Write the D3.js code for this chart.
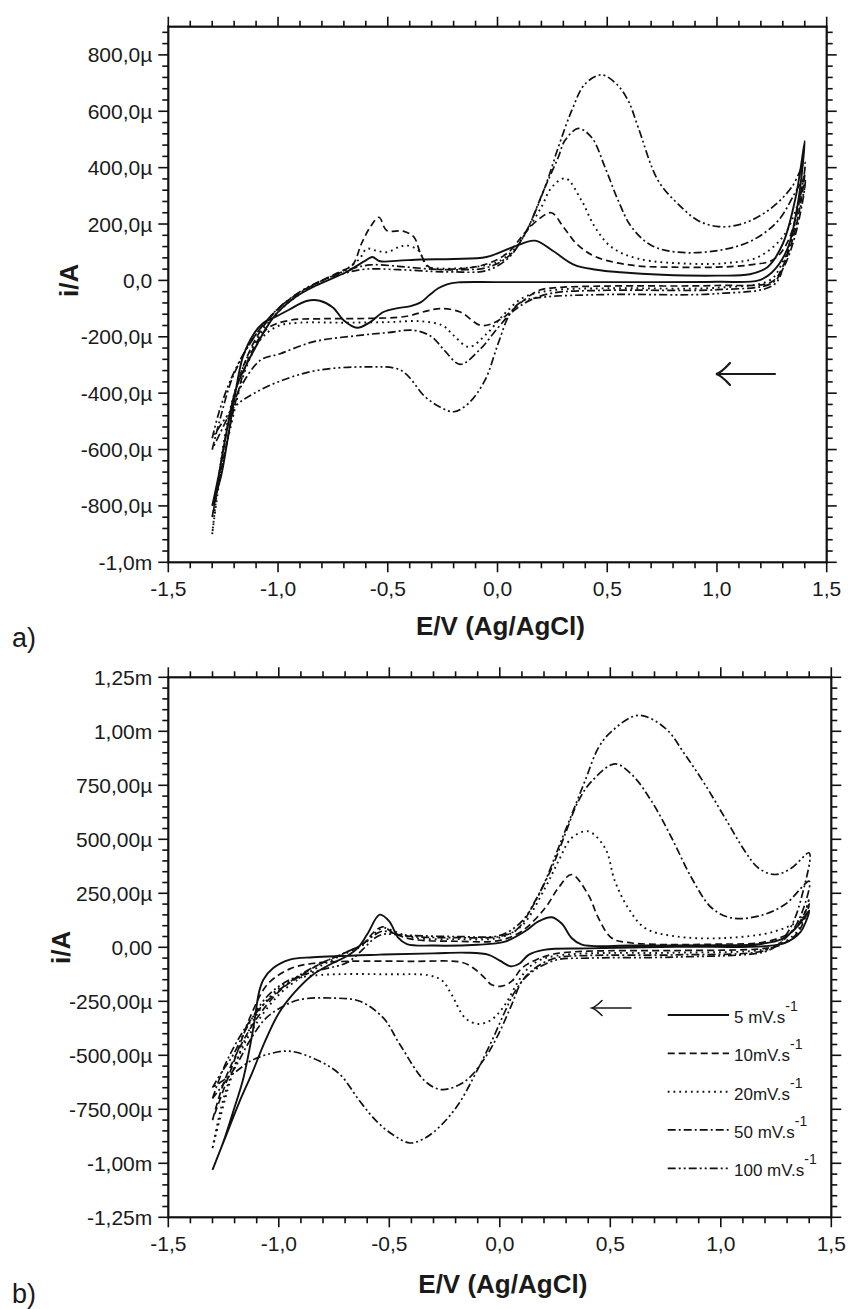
<!DOCTYPE html>
<html>
<head>
<meta charset="utf-8">
<script src="https://cdn.jsdelivr.net/npm/d3@7"></script>
<style>
  body { margin: 0; background: #fff; }
  svg { display: block; }
  text { font-family: "Liberation Sans", Arial, Helvetica, sans-serif; fill: #1a1a1a; }
</style>
</head>
<body>
<svg id="chart" width="850" height="1309"></svg>
<script>
// ---- axis ticks and labels ----
const xTicks = [-1.5, -1.0, -0.5, 0.0, 0.5, 1.0, 1.5];
const xTickLabels = ["-1,5", "-1,0", "-0,5", "0,0", "0,5", "1,0", "1,5"];
const yTicksA = [800, 600, 400, 200, 0, -200, -400, -600, -800, -1000];
const yTickLabelsA = ["800,0µ", "600,0µ", "400,0µ", "200,0µ", "0,0", "-200,0µ", "-400,0µ", "-600,0µ", "-800,0µ", "-1,0m"];
const yTicksB = [1250, 1000, 750, 500, 250, 0, -250, -500, -750, -1000, -1250];
const yTickLabelsB = ["1,25m", "1,00m", "750,00µ", "500,00µ", "250,00µ", "0,00", "-250,00µ", "-500,00µ", "-750,00µ", "-1,00m", "-1,25m"];
const scanRates = ["5 mV.s", "10mV.s", "20mV.s", "50 mV.s", "100 mV.s"];

// ---- voltammograms, [E (V), i (µA)], forward sweep then reverse sweep ----
// a)
const cvA5 = [[-1.30,-800],[-1.27,-690],[-1.24,-560],[-1.19,-380],[-1.11,-248],[-1.02,-130],[-0.92,-59],[-0.81,-12],[-0.69,29],[-0.60,71],[-0.57,83],[-0.535,68],[-0.45,70],[-0.35,74],[-0.20,76],[-0.05,83],[0.07,118],[0.17,141],[0.25,106],[0.35,55],[0.45,38],[0.56,29],[0.75,20],[1.00,17],[1.15,22],[1.23,47],[1.30,130],[1.36,300],[1.40,495],
  [1.37,280],[1.32,110],[1.25,28],[1.19,0],[1.00,-5],[0.50,-6],[0.00,-6],[-0.18,-7],[-0.23,-14],[-0.27,-28],[-0.31,-52],[-0.35,-78],[-0.40,-92],[-0.46,-99],[-0.52,-112],[-0.58,-148],[-0.64,-168],[-0.70,-142],[-0.75,-96],[-0.81,-72],[-0.87,-73],[-0.95,-104],[-1.006,-127],[-1.07,-153],[-1.11,-189],[-1.16,-271],[-1.20,-425],[-1.23,-566],[-1.26,-696],[-1.30,-800]];
const cvA10 = [[-1.30,-840],[-1.26,-650],[-1.22,-480],[-1.17,-330],[-1.10,-205],[-1.02,-118],[-0.92,-52],[-0.82,-8],[-0.72,30],[-0.66,55],[-0.62,130],[-0.58,189],[-0.54,224],[-0.505,177],[-0.43,175],[-0.38,153],[-0.35,94],[-0.31,47],[-0.20,40],[-0.05,58],[0.05,100],[0.12,165],[0.18,212],[0.245,240],[0.30,190],[0.36,130],[0.45,83],[0.62,53],[0.80,47],[1.00,47],[1.15,55],[1.26,75],[1.33,150],[1.40,380],
  [1.36,190],[1.30,50],[1.25,-5],[1.00,-18],[0.50,-20],[0.28,-25],[0.19,-35],[0.10,-83],[0.04,-124],[-0.03,-155],[-0.08,-159],[-0.17,-112],[-0.26,-100],[-0.32,-108],[-0.42,-128],[-0.60,-135],[-0.80,-136],[-0.95,-142],[-1.05,-172],[-1.13,-270],[-1.19,-420],[-1.24,-600],[-1.30,-840]];
const cvA20 = [[-1.30,-900],[-1.27,-700],[-1.23,-500],[-1.17,-330],[-1.09,-200],[-1.00,-112],[-0.90,-48],[-0.80,-2],[-0.70,35],[-0.63,75],[-0.596,112],[-0.55,105],[-0.505,100],[-0.45,118],[-0.414,124],[-0.36,106],[-0.32,50],[-0.25,42],[-0.10,48],[0.00,65],[0.07,105],[0.13,170],[0.20,260],[0.247,330],[0.31,362],[0.383,283],[0.444,189],[0.52,118],[0.641,77],[0.884,59],[1.05,62],[1.188,83],[1.31,165],[1.40,340],
  [1.35,170],[1.29,50],[1.24,0],[1.00,-26],[0.50,-28],[0.25,-35],[0.12,-60],[0.03,-120],[-0.05,-190],[-0.13,-236],[-0.20,-195],[-0.25,-160],[-0.35,-145],[-0.50,-148],[-0.70,-150],[-0.90,-150],[-1.00,-162],[-1.08,-210],[-1.15,-320],[-1.21,-500],[-1.26,-680],[-1.30,-900]];
const cvA50 = [[-1.30,-600],[-1.26,-480],[-1.21,-350],[-1.14,-240],[-1.06,-150],[-0.97,-80],[-0.87,-30],[-0.77,10],[-0.67,40],[-0.58,55],[-0.45,50],[-0.30,40],[-0.15,38],[-0.05,45],[0.05,85],[0.125,165],[0.216,330],[0.277,437],[0.307,496],[0.368,539],[0.429,507],[0.49,401],[0.55,283],[0.611,189],[0.702,124],[0.823,100],[1.006,106],[1.158,141],[1.279,212],[1.37,330],[1.40,360],
  [1.36,170],[1.30,40],[1.25,-10],[1.00,-33],[0.50,-35],[0.25,-45],[0.15,-70],[0.07,-110],[0.00,-170],[-0.08,-245],[-0.17,-298],[-0.24,-250],[-0.30,-200],[-0.38,-177],[-0.50,-185],[-0.63,-195],[-0.84,-218],[-0.99,-260],[-1.08,-283],[-1.17,-378],[-1.22,-470],[-1.30,-600]];
const cvA100 = [[-1.30,-560],[-1.27,-470],[-1.22,-360],[-1.15,-250],[-1.08,-170],[-1.00,-100],[-0.90,-40],[-0.80,0],[-0.70,25],[-0.60,40],[-0.45,38],[-0.30,32],[-0.20,30],[-0.05,35],[0.05,80],[0.125,165],[0.216,330],[0.277,472],[0.338,602],[0.398,696],[0.474,729],[0.543,696],[0.596,637],[0.641,543],[0.732,354],[0.823,271],[0.915,212],[1.006,191],[1.112,200],[1.233,248],[1.34,330],[1.40,420],
  [1.36,220],[1.31,70],[1.26,-15],[1.00,-47],[0.50,-50],[0.20,-60],[0.11,-75],[0.057,-118],[0.003,-224],[-0.057,-354],[-0.133,-437],[-0.20,-466],[-0.26,-450],[-0.33,-413],[-0.44,-319],[-0.60,-307],[-0.82,-319],[-0.98,-354],[-1.11,-401],[-1.20,-450],[-1.30,-560]];

// b)
const cvB5 = [[-1.30,-1030],[-1.24,-875],[-1.18,-720],[-1.12,-580],[-1.06,-430],[-1.00,-305],[-0.93,-210],[-0.85,-130],[-0.76,-75],[-0.69,-40],[-0.64,0],[-0.60,60],[-0.543,151],[-0.50,120],[-0.46,45],[-0.42,15],[-0.30,8],[-0.10,12],[0.02,25],[0.114,74],[0.175,120],[0.235,139],[0.28,110],[0.325,43],[0.371,12],[0.60,8],[1.00,10],[1.17,14],[1.28,40],[1.35,100],[1.40,170],
  [1.36,70],[1.29,20],[1.20,5],[0.80,2],[0.40,-5],[0.20,-12],[0.13,-35],[0.09,-75],[0.05,-88],[0.00,-62],[-0.05,-35],[-0.15,-25],[-0.30,-28],[-0.543,-34],[-0.844,-46],[-0.95,-57],[-1.025,-96],[-1.07,-150],[-1.09,-210],[-1.115,-373],[-1.16,-605],[-1.206,-759],[-1.25,-898],[-1.30,-1030]];
const cvB10 = [[-1.30,-800],[-1.25,-630],[-1.18,-470],[-1.10,-330],[-1.00,-205],[-0.90,-130],[-0.80,-70],[-0.70,-25],[-0.62,15],[-0.57,70],[-0.53,95],[-0.48,65],[-0.40,38],[-0.20,28],[0.00,32],[0.10,75],[0.205,182],[0.265,275],[0.325,337],[0.40,244],[0.446,136],[0.506,43],[0.597,20],[1.00,15],[1.20,25],[1.33,80],[1.40,200],
  [1.35,70],[1.28,15],[1.20,-5],[0.80,-15],[0.40,-18],[0.25,-30],[0.17,-55],[0.10,-96],[0.054,-157],[0.009,-180],[-0.037,-173],[-0.07,-140],[-0.12,-96],[-0.17,-70],[-0.40,-65],[-0.69,-65],[-0.85,-75],[-0.95,-100],[-1.05,-170],[-1.12,-300],[-1.20,-520],[-1.30,-800]];
const cvB20 = [[-1.30,-930],[-1.25,-700],[-1.18,-500],[-1.10,-350],[-1.00,-220],[-0.90,-140],[-0.80,-80],[-0.70,-30],[-0.62,10],[-0.57,60],[-0.53,90],[-0.48,75],[-0.40,45],[-0.20,38],[0.00,45],[0.10,100],[0.205,275],[0.265,398],[0.325,506],[0.40,537],[0.476,460],[0.521,306],[0.581,182],[0.657,89],[0.793,51],[1.019,43],[1.245,74],[1.366,136],[1.40,228],
  [1.35,80],[1.28,20],[1.20,-10],[0.80,-25],[0.40,-28],[0.25,-40],[0.18,-60],[0.129,-96],[0.084,-157],[0.024,-265],[-0.037,-335],[-0.097,-355],[-0.157,-327],[-0.218,-219],[-0.26,-155],[-0.32,-130],[-0.50,-125],[-0.81,-128],[-0.92,-145],[-1.00,-190],[-1.08,-280],[-1.15,-420],[-1.22,-620],[-1.30,-930]];
const cvB50 = [[-1.30,-700],[-1.25,-560],[-1.18,-420],[-1.10,-300],[-1.00,-200],[-0.90,-125],[-0.80,-70],[-0.70,-25],[-0.62,15],[-0.57,55],[-0.53,75],[-0.48,65],[-0.40,50],[-0.20,45],[0.00,50],[0.08,85],[0.159,213],[0.235,367],[0.295,522],[0.355,676],[0.416,769],[0.521,849],[0.597,800],[0.687,676],[0.778,506],[0.868,321],[0.959,182],[1.049,136],[1.17,144],[1.29,198],[1.40,306],
  [1.35,120],[1.28,30],[1.20,-15],[0.80,-35],[0.40,-38],[0.25,-50],[0.16,-96],[0.10,-157],[0.054,-265],[-0.007,-404],[-0.067,-512],[-0.157,-620],[-0.263,-659],[-0.338,-620],[-0.452,-450],[-0.527,-327],[-0.633,-250],[-0.753,-235],[-0.904,-242],[-0.98,-273],[-1.06,-330],[-1.13,-430],[-1.20,-560],[-1.30,-700]];
const cvB100 = [[-1.30,-650],[-1.26,-580],[-1.206,-497],[-1.145,-373],[-1.055,-230],[-0.95,-150],[-0.81,-105],[-0.69,-70],[-0.62,-10],[-0.57,40],[-0.53,60],[-0.48,60],[-0.40,55],[-0.20,50],[0.00,55],[0.084,105],[0.144,182],[0.205,306],[0.265,460],[0.325,614],[0.385,769],[0.446,923],[0.506,1000],[0.627,1074],[0.748,1015],[0.838,892],[0.929,753],[1.019,599],[1.11,444],[1.17,367],[1.245,337],[1.32,367],[1.40,437],
  [1.37,250],[1.32,100],[1.26,15],[1.20,-20],[0.80,-45],[0.40,-50],[0.25,-60],[0.13,-126],[0.069,-204],[0.024,-296],[-0.037,-435],[-0.112,-589],[-0.188,-728],[-0.263,-821],[-0.338,-883],[-0.406,-906],[-0.48,-870],[-0.557,-806],[-0.633,-713],[-0.723,-589],[-0.814,-528],[-0.95,-481],[-1.055,-497],[-1.13,-528],[-1.20,-580],[-1.30,-650]];

// ---- line styles, one per scan rate ----
const dashStyles = [null, "7,4", "1.8,4", "8,3,2,3", "8,3,2,3,2,3"];
const strokeWidths = [1.9, 1.7, 1.9, 1.7, 1.7];

const svg = d3.select("#chart");

function drawPanel(cfg) {
  const x = d3.scaleLinear().domain([-1.5, 1.5]).range([cfg.left, cfg.right]);
  const y = d3.scaleLinear().domain(cfg.yDomain).range([cfg.bottom, cfg.top]);
  const g = svg.append("g");
  const clipId = "clip-" + cfg.id;
  g.append("clipPath").attr("id", clipId).append("rect")
    .attr("x", cfg.left).attr("y", cfg.top)
    .attr("width", cfg.right - cfg.left).attr("height", cfg.bottom - cfg.top);

  // curves
  const line = d3.line().x(d => x(d[0])).y(d => y(d[1])).curve(d3.curveCatmullRom.alpha(0.5));
  const curves = g.append("g").attr("clip-path", `url(#${clipId})`);
  cfg.series.forEach((s, k) => {
    curves.append("path").datum(s)
      .attr("d", line)
      .attr("fill", "none")
      .attr("stroke", "#111")
      .attr("stroke-width", strokeWidths[k])
      .attr("stroke-linejoin", "round")
      .attr("stroke-dasharray", dashStyles[k]);
  });

  // ticks on all four sides, pointing outward
  const xMinor = d3.range(-1.5, 1.5001, 0.1).map(v => +v.toFixed(2));
  const yMinor = d3.range(cfg.yDomain[0], cfg.yDomain[1] + 0.001, cfg.yMinor);
  const ticks = g.append("g").attr("stroke", "#111").attr("stroke-width", 1.6);
  const MAJ = 10, MIN = 6;
  xMinor.forEach(v => {
    const major = xTicks.some(t => Math.abs(t - v) < 1e-6);
    const L = major ? MAJ : MIN;
    ticks.append("line").attr("x1", x(v)).attr("x2", x(v)).attr("y1", cfg.bottom).attr("y2", cfg.bottom + L);
    ticks.append("line").attr("x1", x(v)).attr("x2", x(v)).attr("y1", cfg.top).attr("y2", cfg.top - L);
  });
  yMinor.forEach(v => {
    const major = cfg.yTicks.some(t => Math.abs(t - v) < 1e-6);
    const L = major ? MAJ : MIN;
    ticks.append("line").attr("x1", cfg.left).attr("x2", cfg.left - L).attr("y1", y(v)).attr("y2", y(v));
    ticks.append("line").attr("x1", cfg.right).attr("x2", cfg.right + L).attr("y1", y(v)).attr("y2", y(v));
  });

  // frame
  g.append("rect")
    .attr("x", cfg.left).attr("y", cfg.top)
    .attr("width", cfg.right - cfg.left).attr("height", cfg.bottom - cfg.top)
    .attr("fill", "none").attr("stroke", "#111").attr("stroke-width", 2.2);

  // tick labels
  xTicks.forEach((v, i) => {
    g.append("text").attr("x", x(v)).attr("y", cfg.bottom + 34)
      .attr("text-anchor", "middle").attr("font-size", 21).text(xTickLabels[i]);
  });
  cfg.yTicks.forEach((v, i) => {
    g.append("text").attr("x", cfg.left - 16).attr("y", y(v)).attr("dy", "0.36em")
      .attr("text-anchor", "end").attr("font-size", 21).text(cfg.yLabels[i]);
  });

  // axis titles
  g.append("text").attr("x", (cfg.left + cfg.right) / 2 + 3).attr("y", cfg.xTitleY)
    .attr("text-anchor", "middle").attr("font-size", 26).attr("font-weight", "bold")
    .text("E/V (Ag/AgCl)");
  g.append("text").attr("transform", `translate(${cfg.yTitleX},${y(0)}) rotate(-90)`)
    .attr("text-anchor", "middle").attr("font-size", 26).attr("font-weight", "bold")
    .text("i/A");

  // panel letter
  g.append("text").attr("x", 12).attr("y", cfg.letterY).attr("font-size", 27).text(cfg.letter);

  // scan direction arrow
  const a = cfg.arrow;
  const ag = g.append("g").attr("stroke", "#1a1a1a").attr("stroke-width", a.w).attr("fill", "none")
    .attr("stroke-linecap", "round");
  ag.append("line").attr("x1", a.x2).attr("x2", a.x1 + 1).attr("y1", a.y).attr("y2", a.y);
  ag.append("path").attr("d",
    `M${a.x1 + a.hw},${a.y - a.hh} Q${a.x1 + a.hw * 0.35},${a.y - 1} ${a.x1},${a.y} Q${a.x1 + a.hw * 0.35},${a.y + 1} ${a.x1 + a.hw},${a.y + a.hh}`);

  return { x, y, g };
}

drawPanel({
  id: "a", left: 168.3, right: 826.7, top: 26.7, bottom: 562.3,
  yDomain: [-1000, 900], yMinor: 40, yTicks: yTicksA, yLabels: yTickLabelsA,
  series: [cvA5, cvA10, cvA20, cvA50, cvA100],
  xTitleY: 635, yTitleX: 78, letter: "a)", letterY: 647,
  arrow: { x1: 716, x2: 775, y: 374, hw: 14, hh: 11, w: 2.2 }
});

const pb = drawPanel({
  id: "b", left: 168.3, right: 831.3, top: 677.3, bottom: 1217.3,
  yDomain: [-1250, 1250], yMinor: 50, yTicks: yTicksB, yLabels: yTickLabelsB,
  series: [cvB5, cvB10, cvB20, cvB50, cvB100],
  xTitleY: 1293, yTitleX: 70, letter: "b)", letterY: 1303,
  arrow: { x1: 592, x2: 631, y: 1008, hw: 10, hh: 7.5, w: 1.6 }
});

// legend
const legendRowY = [1015, 1053.3, 1091.7, 1129.8, 1168.3];
const lg = pb.g.append("g");
scanRates.forEach((label, k) => {
  const yy = legendRowY[k];
  lg.append("line").attr("x1", 667.7).attr("x2", 729).attr("y1", yy).attr("y2", yy)
    .attr("stroke", "#111").attr("stroke-width", strokeWidths[k])
    .attr("stroke-dasharray", dashStyles[k]);
  const t = lg.append("text").attr("x", 734).attr("y", yy + 8).attr("font-size", 17);
  t.append("tspan").text(label);
  t.append("tspan").attr("dy", -12).attr("font-size", 14).text("-1");
});
</script>
</body>
</html>
